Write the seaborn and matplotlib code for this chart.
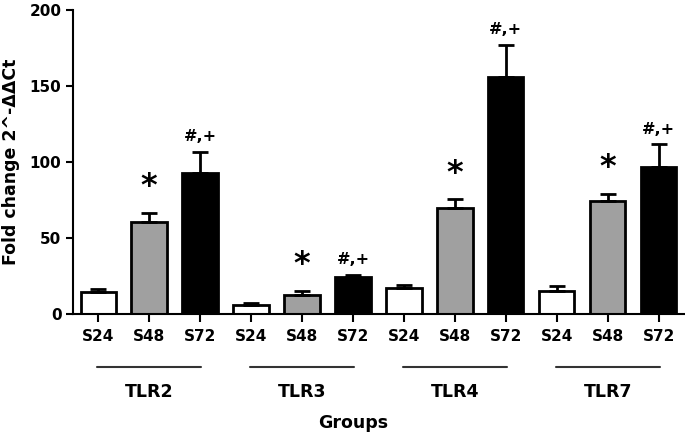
import matplotlib
matplotlib.use("Agg")
import matplotlib.pyplot as plt
import matplotlib.transforms as mtransforms
import numpy as np
import pandas as pd
import seaborn as sns

groups = ["TLR2", "TLR3", "TLR4", "TLR7"]
times = ["S24", "S48", "S72"]

tlr2_mean = [14.2, 60.5, 93.0]
tlr3_mean = [5.9, 12.7, 24.1]
tlr4_mean = [16.9, 69.5, 156.0]
tlr7_mean = [15.0, 74.0, 97.0]

tlr2_err = [2.1, 6.0, 13.5]
tlr3_err = [1.3, 2.4, 1.8]
tlr4_err = [2.2, 6.0, 21.0]
tlr7_err = [3.7, 5.0, 14.5]

marks = ["", "*", "#,+"]

sns.set_style("ticks")
plt.rcParams["font.family"] = ["DejaVu Sans"]
plt.rcParams["font.weight"] = "bold"
plt.rcParams["text.color"] = "black"
plt.rcParams["axes.labelcolor"] = "black"

means = [tlr2_mean, tlr3_mean, tlr4_mean, tlr7_mean]
errs = [tlr2_err, tlr3_err, tlr4_err, tlr7_err]

rows = []
for g, m, e in zip(groups, means, errs):
    for t, v, s in zip(times, m, e):
        rows.append({"bar": g + "_" + t, "group": g, "time": t, "value": v, "err": s})
df = pd.DataFrame(rows)

fig = plt.figure(figsize=(6.85, 4.33), dpi=100)
ax = fig.add_axes([0.106, 0.275, 0.893, 0.702])

sns.barplot(
    data=df,
    x="bar",
    y="value",
    hue="time",
    order=list(df["bar"]),
    hue_order=times,
    palette={"S24": "white", "S48": "#a0a0a0", "S72": "black"},
    dodge=False,
    width=0.69,
    edgecolor="black",
    linewidth=2,
    legend=False,
    ax=ax,
)

xpos = np.arange(len(df))
ax.errorbar(
    xpos,
    df["value"],
    yerr=[np.zeros(len(df)), df["err"]],
    fmt="none",
    ecolor="black",
    elinewidth=2,
    capsize=6,
    capthick=2,
    zorder=1,
)

# significance marks above S48 / S72
for i, row in df.iterrows():
    mark = marks[times.index(row["time"])]
    top = row["value"] + row["err"]
    if mark == "*":
        ax.text(i, top + 7, mark, ha="center", va="bottom", fontsize=23,
                fontweight="bold", color="black")
    elif mark:
        ax.text(i, top + 5, mark, ha="center", va="bottom", fontsize=11.5,
                fontweight="heavy", color="black")

ax.set_ylim(0, 200)
ax.set_xlim(-0.5, len(df) - 0.5)
ax.set_yticks([0, 50, 100, 150, 200])
ax.set_xticks(xpos)
ax.set_xticklabels(df["time"], fontsize=11, fontweight="bold")
ax.set_yticklabels(["0", "50", "100", "150", "200"], fontsize=11, fontweight="bold")
ax.set_xlabel("")
ax.set_ylabel("Fold change 2^-ΔΔCt", fontsize=12.5, fontweight="bold", labelpad=7)

for sp in ["top", "right"]:
    ax.spines[sp].set_visible(False)
for sp in ["left", "bottom"]:
    ax.spines[sp].set_linewidth(1.5)
    ax.spines[sp].set_color("black")
ax.tick_params(axis="y", width=1.5, length=5, colors="black", pad=3)
ax.tick_params(axis="x", width=1.5, length=6, colors="black", pad=5)

# group lines and labels under the x axis
trans = mtransforms.blended_transform_factory(ax.transData, ax.transAxes)
for k, g in enumerate(groups):
    x0 = 3 * k
    ax.plot([x0 - 0.02, x0 + 2.02], [-0.176, -0.176], color="#333333", lw=1.5,
            transform=trans, clip_on=False)
    ax.text(x0 + 1, -0.257, g, ha="center", va="center", fontsize=12.5,
            fontweight="bold", color="black", transform=trans)

ax.text(5.0, -0.36, "Groups", ha="center", va="center", fontsize=12.5,
        fontweight="bold", color="black", transform=trans)

fig.savefig("out.png", dpi=100)
plt.close(fig)
